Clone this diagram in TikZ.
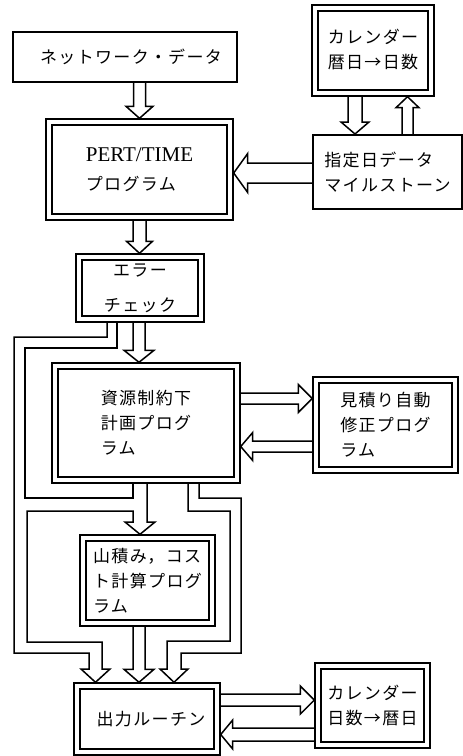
\documentclass[tikz,border=0pt]{standalone}
\usepackage{fontspec}
\setmainfont{Liberation Serif}
\newfontfamily\jp{Noto Sans CJK JP}[LetterSpace=8]
\usetikzlibrary{calc}
\newcommand\jpf{\jp\fontsize{17}{25}\selectfont}
\tikzset{
  sbox/.style={draw, line width=2pt, inner sep=0pt, font=\jpf},
  dbox/.style={draw, line width=1.4pt, inner sep=0pt, font=\jpf},
  innerb/.style={draw, line width=2.2pt},
  hollow/.style={draw, line width=1.5pt, line join=miter},
  pipe/.style={draw, line width=1.5pt, line join=miter},
}
% vertical hollow arrow: from, to, x, shaft half, head half, signed head length
\newcommand\varr[6]{%
  \draw[hollow] ($(#3,0 |- #1)+(-#4,0)$) -- ($(#3,0 |- #2)+(-#4,#6)$) -- ($(#3,0 |- #2)+(-#5,#6)$) -- (#3,0 |- #2) -- ($(#3,0 |- #2)+(#5,#6)$) -- ($(#3,0 |- #2)+(#4,#6)$) -- ($(#3,0 |- #1)+(#4,0)$);}
% horizontal hollow arrow: from, to, y, shaft half, head half, signed head length
\newcommand\harr[6]{%
  \draw[hollow] ($(#1 |- 0,#3)+(0,-#4)$) -- ($(#2 |- 0,#3)+(#6,-#4)$) -- ($(#2 |- 0,#3)+(#6,-#5)$) -- (#2 |- 0,#3) -- ($(#2 |- 0,#3)+(#6,#5)$) -- ($(#2 |- 0,#3)+(#6,#4)$) -- ($(#1 |- 0,#3)+(0,#4)$);}
\newcommand\innerframe[1]{%
  \draw[innerb] ($(#1.north west)+(6.5,6.5)$) rectangle ($(#1.south east)+(-6.5,-6.5)$);}
\begin{document}
\begin{tikzpicture}[x=1pt,y=-1pt]
\useasboundingbox (0,0) rectangle (463,756);
\fill[white] (0,0) rectangle (463,756);

\node[sbox, minimum width=224pt, minimum height=50pt] (net) at (125,57) {\hspace*{12pt}ネットワーク・データ};
\node[dbox, minimum width=122pt, minimum height=91pt, align=center] (cal1) at (373,50.5) {\\[-13pt]カレンダー\\暦日→日数};
\node[dbox, minimum width=187pt, minimum height=101pt, align=left] (pert) at (139.5,169.5) {{\rmfamily\fontsize{21}{25}\selectfont PERT/TIME}\\[4pt]プログラム};
\node[sbox, minimum width=149pt, minimum height=74pt, align=left] (shitei) at (387.5,172) {指定日データ\\マイルストーン};
\node[dbox, minimum width=128pt, minimum height=68pt, align=center] (err) at (140,288) {エラー\\[10pt]チェック};
\node[dbox, minimum width=188pt, minimum height=120pt, align=left] (shigen) at (146,423) {資源制約下\\計画プログ\\ラム};
\node[dbox, minimum width=145pt, minimum height=96pt, align=left] (mitsu) at (385.5,425) {見積り自動\\修正プログ\\ラム};
\node[dbox, minimum width=135pt, minimum height=91pt, align=left] (yama) at (147.5,580.5) {山積み，コス\\ト計算プログ\\ラム};
\node[dbox, minimum width=146pt, minimum height=72pt] (out) at (147,719) {\hspace*{8pt}出力ルーチン};
\node[dbox, minimum width=115pt, minimum height=85pt, align=center] (cal2) at (372.5,705.5) {カレンダー\\日数→暦日};

\foreach \n in {cal1,pert,err,shigen,mitsu,yama,out,cal2} {\innerframe{\n}}

\varr{net.south}{pert.north}{139.5}{6}{13.5}{-12}
\varr{pert.south}{err.north}{139.5}{6.5}{13}{-12}
\varr{err.south}{shigen.north}{139}{6}{15}{-12}
\varr{cal1.south}{shitei.north}{355}{7}{14}{-12}
\varr{shitei.north}{cal1.south}{407.5}{5.5}{11.5}{11}
\harr{shitei.west}{pert.east}{173}{10}{19.5}{14}
\harr{shigen.east}{mitsu.west}{398.5}{5.5}{14}{-14}
\harr{mitsu.west}{shigen.east}{446.5}{5.5}{14}{12}
\harr{out.east}{cal2.west}{700}{6}{14}{-14}
\harr{cal2.west}{out.east}{734.5}{6.5}{14.5}{12}
\varr{yama.south}{out.north}{139}{6}{15}{-13}

% left pipe: error check and resource program to output, plus arrow into yama
\draw[pipe] (107,0 |- err.south) -- (107,337) -- (14,337) -- (14,653) -- (89,653) -- (89,669) -- (81,669) -- (95.5,0 |- out.north) -- (110,669) -- (102,669) -- (102,642) -- (27,642) -- (27,511) -- (133,511) -- (133,522) -- (125,522) -- (140,0 |- yama.north) -- (155,522) -- (147,522) -- (147,0 |- shigen.south);
\draw[pipe] (133,0 |- shigen.south) -- (133,498) -- (25,498) -- (25,348) -- (117,348) -- (117,0 |- err.south);
% right pipe: resource program to output
\draw[pipe] (188,0 |- shigen.south) -- (188,511) -- (230,511) -- (230,641) -- (167,641) -- (167,669) -- (160,669) -- (174,0 |- out.north) -- (188,669) -- (181,669) -- (181,653) -- (241,653) -- (241,498) -- (199,498) -- (199,0 |- shigen.south);
\end{tikzpicture}
\end{document}
